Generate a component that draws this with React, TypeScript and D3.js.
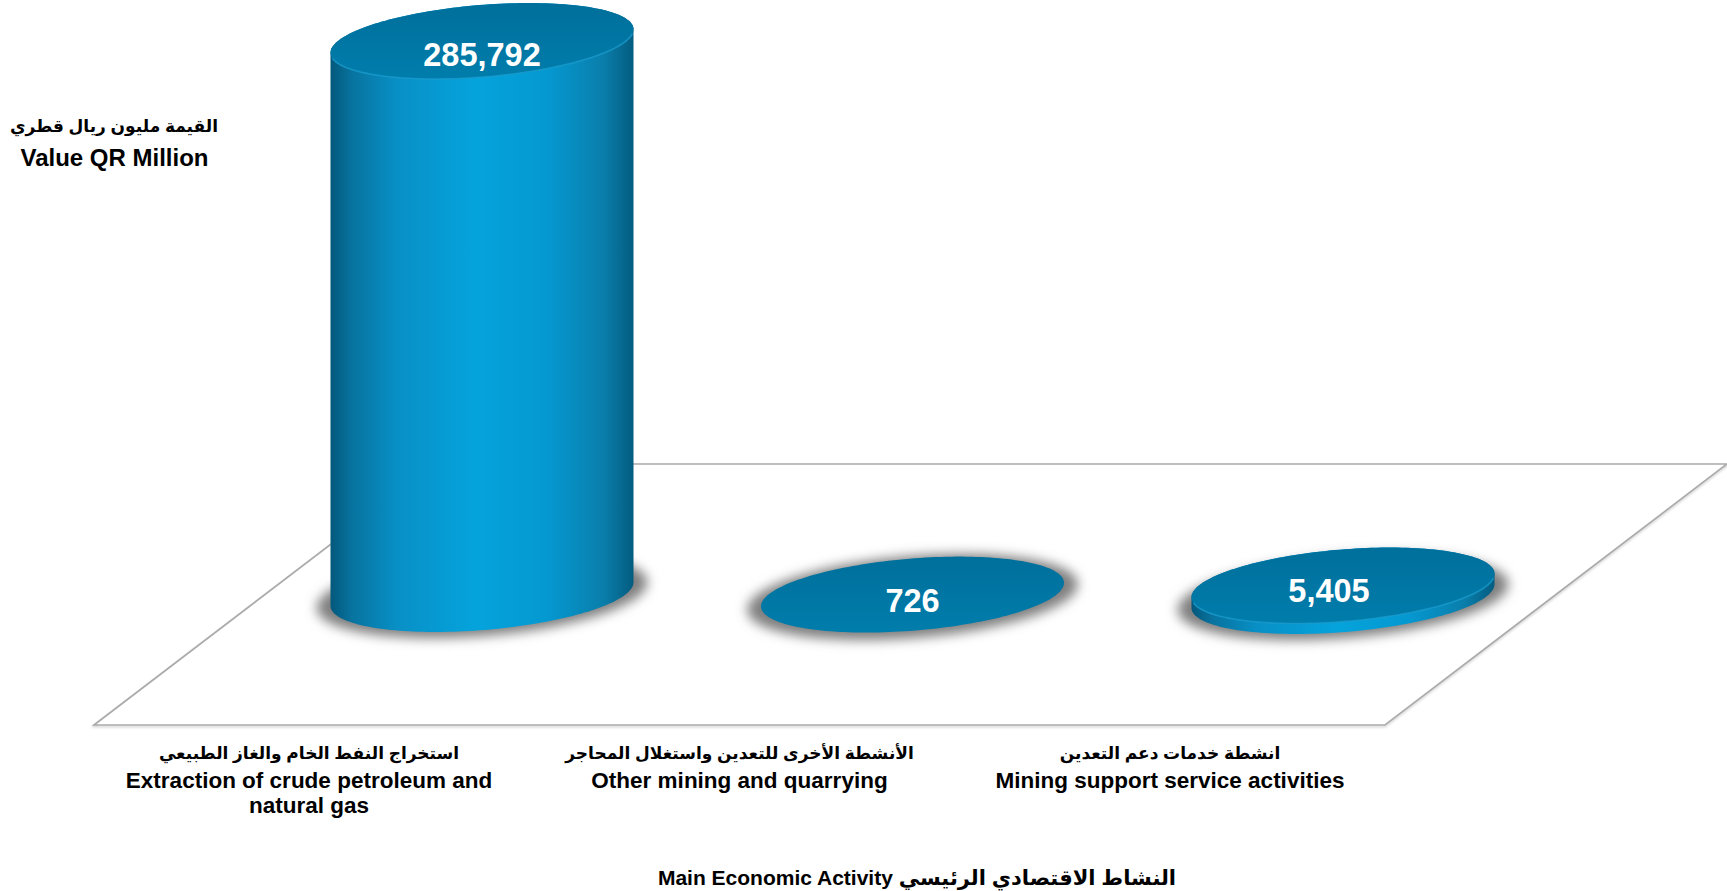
import React from "react";
import * as d3 from "d3";

// ---- data ----
const categories = ["extraction", "other", "support"];
const values = [285792, 726, 5405];
const valueLabels = ["285,792", "726", "5,405"];
const arabicLabels = [
  "استخراج النفط الخام والغاز الطبيعي",
  "الأنشطة الأخرى للتعدين واستغلال المحاجر",
  "انشطة خدمات دعم التعدين",
];
const englishLabels = [
  ["Extraction of crude petroleum and", "natural gas"],
  ["Other mining and quarrying"],
  ["Mining support service activities"],
];
const yTitleArabic = "القيمة مليون ريال قطري";
const yTitleEnglish = "Value QR Million";
const xTitle = "Main Economic Activity النشاط الاقتصادي الرئيسي";

// ---- layout ----
const W = 1727;
const H = 891;
const x = d3.scalePoint<string>().domain(categories).range([482, 1343]);
const height = d3.scaleLinear().domain([0, 285792]).range([0, 553]);
const baseYs = [594, 596, 596];
const valueOffsets = [0, 0, -14];
const valueBaselines = [66, 612, 602];
const RX = 152;
const RY = 36;
const TILT = (-4.7 * Math.PI) / 180;
const LABEL_SHIFT = -173;
const floorPts: [number, number][] = [[94, 725], [1385, 725], [1727, 464], [436, 464]];
const FONT = "'Liberation Sans', Arial, sans-serif";
const AR_FONT = "'Liberation Sans', 'DejaVu Sans', sans-serif";

const angles = d3.range(0, 2 * Math.PI, Math.PI / 90);
const ellipsePts = (cx: number, cy: number, a = RX, b = RY): [number, number][] =>
  angles.map((t) => {
    const ex = a * Math.cos(t);
    const ey = b * Math.sin(t);
    return [
      cx + ex * Math.cos(TILT) - ey * Math.sin(TILT),
      cy + ex * Math.sin(TILT) + ey * Math.cos(TILT),
    ] as [number, number];
  });
const line = d3.line();
const closed = d3.line().curve(d3.curveLinearClosed);

export default function App() {
  return (
    <svg
      width={W}
      height={H}
      viewBox={`0 0 ${W} ${H}`}
      style={{ position: "absolute", left: 0, top: 0, display: "block", background: "#fff" }}
    >
      <defs>
        <linearGradient id="side" x1="0" x2="1" y1="0" y2="0">
          <stop offset="0" stopColor="#04587b" />
          <stop offset="0.07" stopColor="#08739f" />
          <stop offset="0.22" stopColor="#0890c6" />
          <stop offset="0.48" stopColor="#05a3dc" />
          <stop offset="0.72" stopColor="#0598d0" />
          <stop offset="0.9" stopColor="#0a7eab" />
          <stop offset="1" stopColor="#045c80" />
        </linearGradient>
        <linearGradient id="cap" x1="0" x2="0" y1="0" y2="1">
          <stop offset="0" stopColor="#006f9b" />
          <stop offset="1" stopColor="#007dac" />
        </linearGradient>
        <filter id="soft" x="-20%" y="-50%" width="140%" height="200%">
          <feGaussianBlur stdDeviation="6" />
        </filter>
        <filter id="lineShadow" x="-5%" y="-5%" width="110%" height="110%">
          <feGaussianBlur stdDeviation="1.2" />
        </filter>
      </defs>

      <path d={closed(floorPts) ?? ""} fill="#fff" stroke="#d4d4d4" strokeWidth={2} transform="translate(0,1.5)" filter="url(#lineShadow)" />
      <path d={closed(floorPts) ?? ""} fill="#fff" stroke="#ababab" strokeWidth={1.7} />

      {categories.map((c, i) => {
        const cx = x(c) as number;
        const base = baseYs[i];
        const top = base - height(values[i]);
        const basePts = ellipsePts(cx, base);
        const topPts = ellipsePts(cx, top);
        const hull = d3.polygonHull([...basePts, ...topPts]) as [number, number][];
        const rimPts = angles
          .filter((t) => t > 0.12 && t < Math.PI - 0.12)
          .map((t) => {
            const idx = angles.indexOf(t);
            return topPts[idx];
          });
        return (
          <g key={c}>
            <ellipse
              cx={cx}
              cy={base + 1}
              rx={RX + 14}
              ry={RY + 5}
              transform={`rotate(-4.7 ${cx} ${base + 1})`}
              fill="#7f7f7f"
              filter="url(#soft)"
            />
            {height(values[i]) > 4 && <path d={closed(hull) ?? ""} fill="url(#side)" />}
            <path d={closed(topPts) ?? ""} fill="url(#cap)" />
            {height(values[i]) > 4 && (
              <path d={line(rimPts) ?? ""} fill="none" stroke="#1b9ccd" strokeOpacity={0.75} strokeWidth={1.6} />
            )}
            <text
              x={cx + valueOffsets[i]}
              y={valueBaselines[i]}
              textAnchor="middle"
              fontFamily={FONT}
              fontWeight={700}
              fontSize={32.5}
              fill="#fff"
            >
              {valueLabels[i]}
            </text>
            <text
              x={cx + LABEL_SHIFT}
              y={759}
              textAnchor="middle"
              direction="rtl"
              fontFamily={AR_FONT}
              fontWeight={700}
              fontSize={17}
              fill="#000"
            >
              {arabicLabels[i]}
            </text>
            {englishLabels[i].map((t, j) => (
              <text
                key={t}
                x={cx + LABEL_SHIFT}
                y={788 + j * 25}
                textAnchor="middle"
                fontFamily={FONT}
                fontWeight={700}
                fontSize={22.5}
                fill="#000"
              >
                {t}
              </text>
            ))}
          </g>
        );
      })}

      <text x={114} y={132} textAnchor="middle" direction="rtl" fontFamily={AR_FONT} fontWeight={700} fontSize={17} fill="#000">
        {yTitleArabic}
      </text>
      <text x={114.5} y={166} textAnchor="middle" fontFamily={FONT} fontWeight={700} fontSize={24} fill="#000">
        {yTitleEnglish}
      </text>
      <text x={917} y={885} textAnchor="middle" fontFamily={AR_FONT} fontWeight={700} fontSize={21} fill="#000">
        {xTitle}
      </text>
    </svg>
  );
}
